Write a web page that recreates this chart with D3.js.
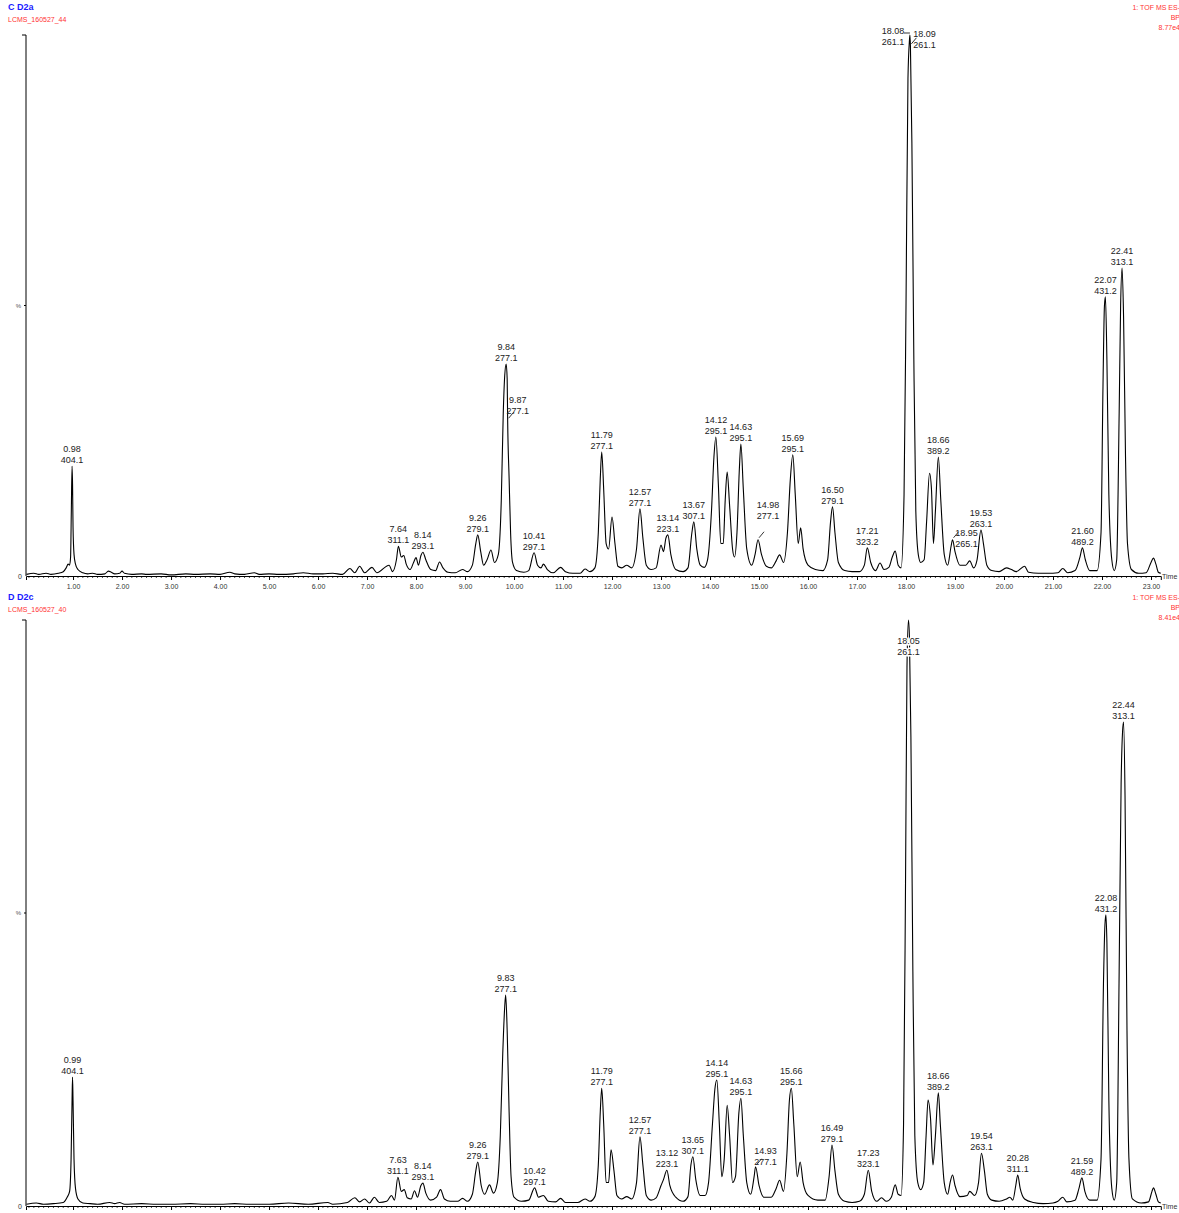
<!DOCTYPE html>
<html>
<head>
<meta charset="utf-8">
<script src="https://cdn.jsdelivr.net/npm/d3@7"></script>
<style>
  body { margin: 0; background: #fff; }
  svg { display: block; font-family: "Liberation Sans", Arial, sans-serif; }
</style>
</head>
<body>
<svg id="svgContenedor" width="1179" height="1213"></svg>
<script>
// chromatogram C D2a (time in min, % of BPI)
var traceC = [
  [0.05,0.3],[0.2,0.5],[0.3,0.3],[0.45,0.5],[0.55,0.3],[0.7,0.5],[0.8,0.8],[0.86,1.5],[0.9,2.2],[0.93,2.0],[0.95,3.5],[0.965,12],[0.98,20.3],[0.99,17],[1.0,9],[1.02,4],[1.05,2.2],[1.1,1.2],[1.2,0.6],[1.3,0.4],[1.4,0.5],[1.5,0.3],[1.65,0.4],[1.72,0.9],[1.78,0.7],[1.85,0.4],[1.95,0.5],[2.0,0.9],[2.05,0.5],[2.2,0.3],[2.4,0.4],[2.5,0.3],[2.8,0.4],[3.0,0.2],[3.3,0.4],[3.5,0.3],[3.8,0.4],[4.0,0.3],[4.2,0.7],[4.3,0.4],[4.5,0.3],[4.7,0.6],[4.8,0.3],[5.0,0.4],[5.2,0.3],[5.5,0.4],[5.7,0.6],[5.9,0.4],[6.1,0.4],[6.3,0.5],[6.5,0.3],[6.65,1.4],[6.75,0.6],[6.85,1.8],[6.95,0.6],[7.1,1.6],[7.2,0.6],[7.45,2.0],[7.52,0.8],[7.6,3],[7.64,5.5],[7.7,3.5],[7.75,3.8],[7.8,2.2],[7.88,1.2],[7.95,2.5],[8.0,3.4],[8.05,2.0],[8.1,3.8],[8.14,4.4],[8.2,3],[8.3,1.2],[8.4,1.0],[8.48,2.6],[8.55,1.5],[8.65,0.7],[8.8,0.6],[8.95,1.2],[9.05,0.8],[9.15,2],[9.22,6],[9.26,7.6],[9.32,4.5],[9.38,2],[9.45,3],[9.53,4.8],[9.6,2.5],[9.68,4],[9.74,14],[9.78,30],[9.81,37],[9.84,39.2],[9.86,36.5],[9.87,28.8],[9.9,18],[9.93,8],[9.97,2.5],[10.05,1.0],[10.2,0.7],[10.3,1.0],[10.41,4.3],[10.48,2],[10.55,1.5],[10.6,2.2],[10.68,1.2],[10.8,0.6],[10.95,1.6],[11.05,0.8],[11.2,0.5],[11.35,0.5],[11.45,1.3],[11.55,0.8],[11.65,1.5],[11.72,8],[11.76,18],[11.79,22.9],[11.83,16],[11.88,6],[11.93,5],[12.0,10.9],[12.06,6],[12.12,1.8],[12.2,1.5],[12.3,2.0],[12.4,1.5],[12.5,5],[12.57,12.4],[12.63,7],[12.7,2],[12.8,1.2],[12.9,1.5],[13.0,5.7],[13.05,4.5],[13.1,7],[13.14,7.6],[13.2,4],[13.3,1.2],[13.45,0.8],[13.55,1.5],[13.63,8],[13.67,10],[13.73,5],[13.8,2],[13.88,1.6],[13.95,3],[14.03,12],[14.08,22],[14.12,25.7],[14.17,17],[14.22,6],[14.27,6],[14.31,14],[14.35,19.2],[14.4,13],[14.46,5],[14.5,3.5],[14.55,8],[14.6,20],[14.63,24.4],[14.68,16],[14.75,5],[14.85,2],[14.92,4],[14.98,6.7],[15.05,4],[15.15,1.8],[15.25,1.5],[15.35,2.8],[15.42,3.9],[15.5,2.5],[15.58,8],[15.64,18],[15.69,22.4],[15.74,15],[15.8,6],[15.85,8.9],[15.9,5],[16.0,2],[16.15,1.2],[16.3,1.0],[16.4,3],[16.46,10],[16.5,12.8],[16.55,8],[16.62,2.5],[16.75,1],[16.9,0.8],[17.05,0.8],[17.15,2],[17.21,5.2],[17.28,2.5],[17.38,1],[17.47,2.4],[17.55,1.2],[17.65,1.6],[17.72,3.5],[17.78,4.6],[17.84,2],[17.9,1.5],[17.96,15],[18.0,50],[18.04,92],[18.07,99],[18.08,100],[18.09,98],[18.12,80],[18.16,40],[18.2,12],[18.25,4],[18.3,2.5],[18.37,3],[18.42,10],[18.48,19],[18.52,16],[18.56,6],[18.6,12],[18.66,22],[18.71,14],[18.78,4],[18.85,2],[18.92,5.5],[18.95,6.7],[19.0,4.5],[19.1,2],[19.22,2],[19.3,2.8],[19.38,1.5],[19.45,3],[19.53,8.5],[19.58,6],[19.65,2],[19.75,1.0],[19.9,0.8],[20.05,1.5],[20.15,1.2],[20.25,0.8],[20.42,1.8],[20.5,0.7],[20.7,0.5],[20.9,0.5],[21.1,0.6],[21.2,1.4],[21.3,0.6],[21.45,1],[21.55,3.5],[21.6,5.2],[21.66,3],[21.75,1],[21.9,1],[21.98,8],[22.02,35],[22.05,50],[22.07,51.6],[22.1,40],[22.14,15],[22.2,3],[22.25,1],[22.3,3],[22.35,30],[22.38,50],[22.41,56.9],[22.44,48],[22.48,22],[22.52,6],[22.6,1.2],[22.75,0.5],[22.9,0.6],[23.0,2.5],[23.05,3.3],[23.1,2.2],[23.15,0.7],[23.2,0.5]
];

// chromatogram D D2c
var traceD = [
  [0.05,0.3],[0.25,0.5],[0.4,0.3],[0.6,0.4],[0.8,0.6],[0.88,1.5],[0.93,2.5],[0.96,8],[0.98,18],[0.99,22],[1.0,18],[1.02,8],[1.05,3],[1.1,1.2],[1.2,0.5],[1.35,0.4],[1.5,0.3],[1.75,0.6],[1.85,0.4],[1.95,0.6],[2.05,0.3],[2.4,0.4],[2.7,0.3],[3.0,0.3],[3.4,0.4],[3.7,0.3],[4.0,0.3],[4.3,0.4],[4.6,0.3],[5.0,0.3],[5.4,0.5],[5.8,0.3],[6.2,0.6],[6.3,0.3],[6.6,0.6],[6.75,1.4],[6.85,0.7],[6.95,1.2],[7.05,0.5],[7.15,1.5],[7.25,0.6],[7.4,0.8],[7.5,1.8],[7.56,1],[7.63,4.9],[7.7,2.5],[7.76,2.8],[7.82,1.4],[7.9,1.2],[7.97,2.6],[8.03,1.5],[8.1,3.5],[8.14,3.9],[8.2,2.2],[8.3,1.0],[8.42,1.5],[8.5,2.8],[8.58,1.2],[8.7,0.8],[8.85,0.8],[8.95,1.3],[9.05,0.8],[9.15,2],[9.22,6],[9.26,7.5],[9.33,3.5],[9.4,2],[9.5,3.6],[9.58,2.2],[9.66,4],[9.72,12],[9.77,26],[9.81,34],[9.83,36],[9.86,30],[9.9,16],[9.94,5],[10.0,1.5],[10.15,0.8],[10.3,1.0],[10.42,3.1],[10.5,1.5],[10.6,1.8],[10.7,0.8],[10.85,0.7],[10.95,1.3],[11.05,0.6],[11.3,0.6],[11.45,1.2],[11.55,0.8],[11.65,1.6],[11.72,7],[11.76,16],[11.79,20.1],[11.83,14],[11.88,4],[11.93,4],[11.98,9.6],[12.04,6],[12.1,1.8],[12.2,1.2],[12.3,1.6],[12.4,1.2],[12.5,4],[12.57,11.8],[12.63,7],[12.7,1.8],[12.8,1.0],[12.9,1.4],[13.0,3.5],[13.05,4.5],[13.12,6.1],[13.18,3.5],[13.3,1.5],[13.45,0.8],[13.55,1.6],[13.61,7],[13.65,8.4],[13.71,4.5],[13.8,1.8],[13.9,1.8],[13.97,4],[14.05,14],[14.1,20],[14.14,21.5],[14.19,14],[14.24,5],[14.29,8],[14.35,17.2],[14.4,12],[14.46,4],[14.52,5],[14.59,16],[14.63,18.4],[14.68,12],[14.75,4],[14.83,2],[14.9,5],[14.93,6.7],[15.0,3.5],[15.1,1.5],[15.25,1.5],[15.35,3],[15.42,4.4],[15.5,2.5],[15.57,9],[15.62,18],[15.66,20.1],[15.71,14],[15.78,5],[15.84,7.5],[15.9,4],[16.0,1.8],[16.2,1.0],[16.35,1.0],[16.43,5],[16.49,10.4],[16.55,6],[16.62,2],[16.75,0.8],[16.9,0.6],[17.05,0.8],[17.15,2],[17.23,6.1],[17.3,2.5],[17.4,0.8],[17.5,1.4],[17.6,0.8],[17.7,1.5],[17.78,3.6],[17.84,2],[17.9,1.8],[17.95,14],[17.99,55],[18.02,92],[18.05,100],[18.07,97],[18.1,80],[18.14,40],[18.18,12],[18.24,4],[18.3,2.8],[18.36,4],[18.41,12],[18.45,18.1],[18.5,15],[18.55,7],[18.6,12],[18.66,19.3],[18.7,14],[18.78,4],[18.85,2],[18.9,4],[18.95,5.3],[19.0,3.5],[19.1,1.6],[19.25,1.8],[19.3,2.5],[19.4,1.8],[19.48,4],[19.54,9],[19.6,6],[19.66,2],[19.75,1.0],[19.9,0.8],[20.05,1.2],[20.12,1.5],[20.18,1],[20.24,3.5],[20.28,5.3],[20.33,3],[20.42,1.2],[20.6,0.6],[20.8,0.4],[21.0,0.5],[21.1,0.8],[21.2,1.5],[21.28,0.7],[21.45,1],[21.53,3],[21.59,4.8],[21.65,2.5],[21.75,1],[21.9,1],[21.98,8],[22.03,38],[22.06,48],[22.08,49.7],[22.1,45],[22.14,18],[22.2,3],[22.25,1],[22.3,4],[22.35,40],[22.39,72],[22.42,81],[22.44,82.6],[22.47,70],[22.51,30],[22.55,8],[22.62,1.2],[22.8,0.5],[22.95,0.7],[23.02,2.5],[23.05,3.1],[23.1,2],[23.15,0.7],[23.2,0.5]
];

// peak labels: retention time, m/z
var labelsC = [
  ["0.98","404.1"],["7.64","311.1"],["8.14","293.1"],["9.26","279.1"],["9.84","277.1"],["9.87","277.1"],
  ["10.41","297.1"],["11.79","277.1"],["12.57","277.1"],["13.14","223.1"],["13.67","307.1"],["14.12","295.1"],
  ["14.63","295.1"],["14.98","277.1"],["15.69","295.1"],["16.50","279.1"],["17.21","323.2"],["18.08","261.1"],
  ["18.09","261.1"],["18.66","389.2"],["18.95","265.1"],["19.53","263.1"],["21.60","489.2"],["22.07","431.2"],
  ["22.41","313.1"]
];
var labelsD = [
  ["0.99","404.1"],["7.63","311.1"],["8.14","293.1"],["9.26","279.1"],["9.83","277.1"],["10.42","297.1"],
  ["11.79","277.1"],["12.57","277.1"],["13.12","223.1"],["13.65","307.1"],["14.14","295.1"],["14.63","295.1"],
  ["14.93","277.1"],["15.66","295.1"],["16.49","279.1"],["17.23","323.1"],["18.05","261.1"],["18.66","389.2"],
  ["19.54","263.1"],["20.28","311.1"],["21.59","489.2"],["22.08","431.2"],["22.44","313.1"]
];

var xTickValues = d3.range(1, 24);
var headersC = ["C D2a", "LCMS_160527_44", "1: TOF MS ES-", "BP", "8.77e4"];
var headersD = ["D D2c", "LCMS_160527_40", "1: TOF MS ES-", "BP", "8.41e4"];

// label offsets in px [dx, dy, connector]
var nudgeC = { "9.87": [10, -3, 1], "14.98": [10, -18, 1], "18.08": [-17, 13, 2], "18.09": [14, 5, 1], "18.95": [14, 10, 1] };
var nudgeD = { "14.93": [10, 1, 1], "18.05": [0, 38, 0] };

var svg = d3.select("#svgContenedor");

function valueAt(trace, t) {
  for (var i = 1; i < trace.length; i++) {
    if (trace[i][0] >= t) {
      var a = trace[i - 1], b = trace[i];
      return a[1] + (b[1] - a[1]) * (t - a[0]) / (b[0] - a[0]);
    }
  }
  return 0;
}

function drawPanel(trace, labels, headers, nudge, top, base, headY) {
  var x = d3.scaleLinear().domain([0.04, 23.2]).range([26, 1160.8]);
  var y = d3.scaleLinear().domain([0, 100]).range([base, top]);
  var g = svg.append("g");

  // headers
  g.append("text").attr("x", 8).attr("y", headY).attr("fill", "#1a1aff")
    .attr("font-size", "9px").attr("font-weight", "bold").text(headers[0]);
  g.append("text").attr("x", 8).attr("y", headY + 12).attr("fill", "#ff3333")
    .attr("font-size", "7px").text(headers[1]);
  [2, 3, 4].forEach(function (k, i) {
    g.append("text").attr("x", 1180).attr("y", headY + i * 10).attr("fill", "#ff3333")
      .attr("text-anchor", "end").attr("font-size", "7px").text(headers[k]);
  });

  // x axis
  var xAxis = d3.axisBottom(x).tickValues(xTickValues).tickSize(4)
    .tickFormat(function (d) { return d.toFixed(2); });
  var ax = g.append("g").attr("transform", "translate(0," + base + ")").call(xAxis);
  ax.select(".domain").attr("stroke", "#000").attr("stroke-width", 1);
  ax.selectAll(".tick line").attr("stroke", "#000");
  ax.selectAll(".tick text").attr("font-size", "7px").attr("fill", "#333")
    .attr("font-family", "Liberation Sans, Arial, sans-serif").attr("dy", "0.9em");
  var minor = d3.range(0.1, 23.2, 0.1).filter(function (d) { return Math.abs(d - Math.round(d)) > 0.01; });
  ax.selectAll(".minor").data(minor).enter().append("line")
    .attr("x1", function (d) { return x(d); }).attr("x2", function (d) { return x(d); })
    .attr("y1", 0).attr("y2", 2).attr("stroke", "#000").attr("stroke-width", 0.7);
  g.append("text").attr("x", 1162).attr("y", base + 3).attr("font-size", "7px")
    .attr("fill", "#333").text("Time");

  // y axis
  g.append("line").attr("x1", 26).attr("x2", 26).attr("y1", top).attr("y2", base)
    .attr("stroke", "#000").attr("stroke-width", 1);
  g.append("line").attr("x1", 22).attr("x2", 26).attr("y1", top).attr("y2", top)
    .attr("stroke", "#000");
  g.append("line").attr("x1", 24).attr("x2", 26).attr("y1", y(50)).attr("y2", y(50))
    .attr("stroke", "#000");
  g.append("text").attr("x", 21).attr("y", y(50) + 2).attr("text-anchor", "end")
    .attr("font-size", "6px").attr("fill", "#555").text("%");
  g.append("text").attr("x", 22).attr("y", base + 3).attr("text-anchor", "end")
    .attr("font-size", "7px").attr("fill", "#333").text("0");

  // trace
  var line = d3.line().curve(d3.curveMonotoneX)
    .x(function (d) { return x(d[0]); }).y(function (d) { return y(d[1]); });
  g.append("path").datum(trace).attr("d", line).attr("fill", "none")
    .attr("stroke", "#000").attr("stroke-width", 1.1).attr("stroke-linejoin", "round");

  // peak labels
  labels.forEach(function (l) {
    var t = +l[0];
    var px = x(t), py = y(valueAt(trace, t));
    var n = nudge[l[0]] || [0, 0, 0];
    var lx = px + n[0], ly = py - 3 + n[1];
    if (n[2] === 1) {
      g.append("line").attr("x1", px + 1).attr("y1", py - 2).attr("x2", px + 6).attr("y2", py - 8)
        .attr("stroke", "#000").attr("stroke-width", 0.8);
    } else if (n[2] === 2) {
      g.append("line").attr("x1", lx + 11).attr("y1", ly - 12).attr("x2", px).attr("y2", ly - 12)
        .attr("stroke", "#000").attr("stroke-width", 0.8);
    }
    var tx = g.append("text").attr("text-anchor", "middle").attr("font-size", "9px").attr("fill", "#222");
    if (n[1] > 20) tx.attr("stroke", "#fff").attr("stroke-width", 3).attr("paint-order", "stroke");
    tx.append("tspan").attr("x", lx).attr("y", ly - 11).text(l[0]);
    tx.append("tspan").attr("x", lx).attr("y", ly).text(l[1]);
  });
}

drawPanel(traceC, labelsC, headersC, nudgeC, 35, 576, 10);
drawPanel(traceD, labelsD, headersD, nudgeD, 620, 1206, 600);
</script>
</body>
</html>
